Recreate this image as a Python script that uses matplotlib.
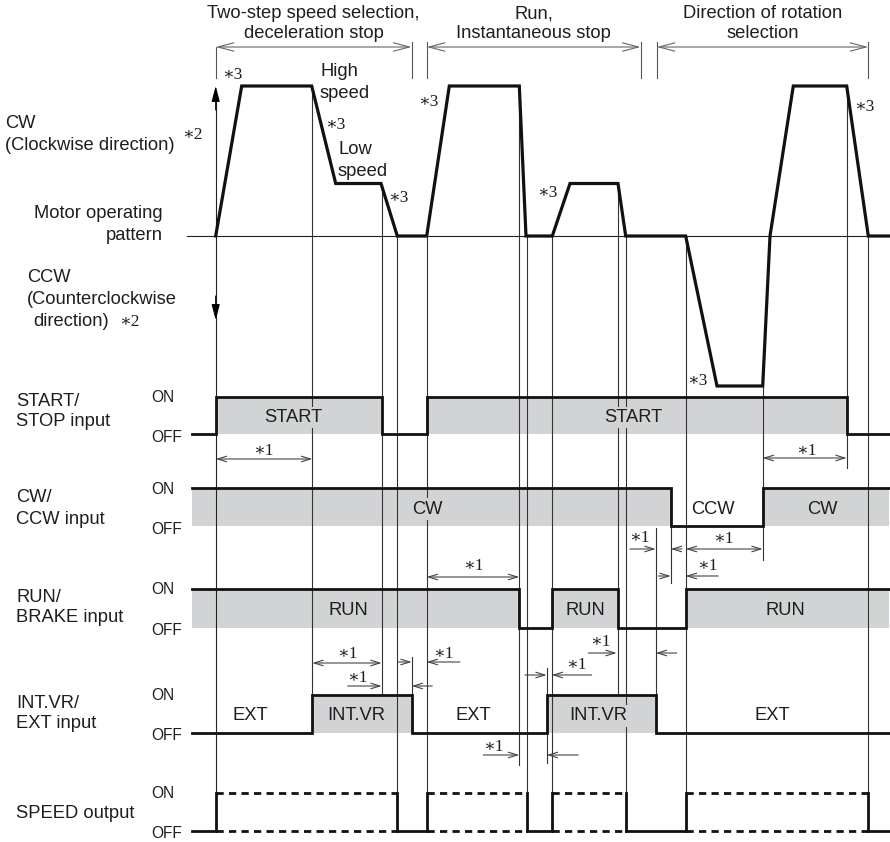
import matplotlib.pyplot as plt
from matplotlib.patches import FancyArrowPatch

plt.rcParams['font.family'] = ['Liberation Sans', 'DejaVu Sans']
SERIF = ['Liberation Serif', 'DejaVu Serif']

# ---- timing data (x = time in diagram units) ----
t_begin, t_end = 192, 889

# motor speed: 1 = high speed CW, 0.35 = low speed CW, -1 = CCW
motor_t = [215.7, 241.7, 311.7, 335.7, 381.0, 397.3, 426.7, 449.3, 519.3, 526.0,
           552.3, 570.0, 618.0, 625.7, 685.7, 717.0, 762.7, 770.0, 793.3, 846.7,
           868.3, 890.0]
motor_v = [0, 1, 1, 0.35, 0.35, 0, 0, 1, 1, 0,
           0, 0.35, 0.35, 0, 0, -1, -1, 0, 1, 1,
           0, 0]

# switching times of each signal and its state before the first edge
start_edges = [215.7, 381.7, 426.7, 846.7]
cwccw_edges = [670.7, 762.7]
run_edges = [519.3, 552.3, 617.7, 685.7]
intvr_edges = [312.3, 411.7, 546.7, 655.7]
speed_edges = [215.7, 397.3, 426.7, 526.7, 551.7, 625.7, 685.7, 868.3]
start_init, cwccw_init, run_init, intvr_init, speed_init = 0, 1, 1, 0, 0

start_labels = ["START", "START"]
start_label_t = [293, 633]
cwccw_labels = ["CW", "CCW", "CW"]
cwccw_label_t = [427, 713, 822]
run_labels = ["RUN", "RUN", "RUN"]
run_label_t = [348, 585, 785]
intvr_labels = ["EXT", "INT.VR", "EXT", "INT.VR", "EXT"]
intvr_label_t = [250, 356, 473, 598, 772]

# phases shown at the top
phase_titles = ["Two-step speed selection,\ndeceleration stop",
                "Run,\nInstantaneous stop",
                "Direction of rotation\nselection"]
phase_spans = [(215.7, 411.7), (426.7, 640.7), (656.7, 868.3)]

# time marker lines: (time, from, to)
markers = [(312.3, 86, 695), (381.7, 184, 695), (397.3, 236, 831),
           (411.7, 657, 695), (426.7, 236, 831), (519.3, 86, 765),
           (526.7, 236, 831), (546.7, 668, 763), (552.3, 236, 831),
           (617.7, 184, 693), (625.7, 236, 831), (655.7, 528, 695),
           (670.7, 526, 583), (685.7, 236, 831), (762.7, 387, 560),
           (846.7, 86, 468), (868.3, 236, 831)]

# *1 delay dimensions: both ends (t1, t2, y, text x, text y)
delay_both = [(215.7, 312.3, 459, 263, 451), (762.7, 846.7, 458, 806, 451),
              (426.7, 519.3, 577, 473, 566), (685.7, 762.7, 549, 723, 539),
              (312.3, 381.7, 663, 347, 654)]
# *1 delay dimensions pointing inward: (tail1, head1, tail2, head2, y, text x, text y)
delay_in = [(630.0, 655.7, 682.0, 670.7, 549, 639, 538),
            (658.3, 670.7, 718.3, 685.7, 576, 707, 566),
            (347.7, 381.7, 432.3, 411.7, 686, 357, 678),
            (398.3, 411.7, 460.0, 426.7, 662, 443, 654),
            (483.3, 519.3, 578.3, 546.7, 755, 493, 747),
            (525.0, 546.7, 591.7, 551.7, 675, 576, 665),
            (588.3, 616.7, 676.7, 655.7, 653, 600, 642)]

# *3 notes (acceleration / deceleration time)
note3_x = [232, 335, 398, 428, 547, 864, 697]
note3_y = [75, 125, 198, 102, 193, 107, 381]

# ---- layout ----
zero_y, scale = 236, 150
rows = {'start': (397, 434), 'cw': (488, 526), 'run': (589, 627.5),
        'intvr': (695, 733), 'speed': (793, 831)}
row_names = {'start': [('START/', 401), ('STOP input', 422)],
             'cw': [('CW/', 497), ('CCW input', 519)],
             'run': [('RUN/', 598), ('BRAKE input', 618)],
             'intvr': [('INT.VR/', 703), ('EXT input', 724)],
             'speed': [('SPEED output', 813)]}
GRAY = '#d1d3d4'
TXT = '#1e1e1e'
FS = 13.2
LW = 2.0

fig = plt.figure(figsize=(8.9, 8.42), dpi=100)
ax = fig.add_axes([0, 0, 1, 1])
ax.set_xlim(0, 890)
ax.set_ylim(842, 0)
ax.axis('off')


def intervals(edges, init):
    b = [t_begin] + edges + [t_end]
    out = []
    s = init
    for a, c in zip(b[:-1], b[1:]):
        out.append((a, c, s))
        s = 1 - s
    return out


def state_at(edges, init, t):
    return (init + sum(1 for e in edges if e < t)) % 2


def draw_signal(edges, init, row, labels, label_t):
    on, off = rows[row]
    xs, ys = [], []
    for a, c, s in intervals(edges, init):
        y = on if s else off
        if s:
            ax.fill_between([a, c], on, off, color=GRAY, lw=0, zorder=1)
        xs += [a, c]
        ys += [y, y]
    ax.plot(xs, ys, color='#111111', lw=LW, zorder=4, solid_joinstyle='miter')
    for lab, t in zip(labels, label_t):
        bg = GRAY if state_at(edges, init, t) else 'white'
        ax.text(t, (on + off) / 2 + 2, lab, ha='center', va='center', fontsize=FS,
                color=TXT, zorder=5,
                bbox=dict(boxstyle='square,pad=0.12', fc=bg, ec='none'))


def dim_arrow(p1, p2, style, color='#444444', hl=0.65, hw=0.2, lw=0.8):
    ax.add_patch(FancyArrowPatch(p1, p2, arrowstyle=f'{style},head_length={hl},head_width={hw}',
                                 mutation_scale=10, color=color, lw=lw,
                                 shrinkA=0, shrinkB=0, zorder=6))


def note(x, y, s, **kw):
    ax.text(x, y, s, va='center', fontsize=kw.pop('fontsize', FS), color=TXT, **kw)


# motor pattern
ax.plot([187, 890], [zero_y, zero_y], color='#222222', lw=0.8, zorder=2)
ax.plot(motor_t, [zero_y - v * scale for v in motor_v], color='#111111', lw=2.3,
        zorder=4, solid_joinstyle='miter')
ax.plot([215.7, 215.7], [92, 831], color='#222222', lw=0.8, zorder=2)
for tip, tail in ((86, 110), (320, 296)):
    ax.annotate('', xy=(215.7, tip), xytext=(215.7, tail),
                arrowprops=dict(arrowstyle='-|>,head_length=0.95,head_width=0.25',
                                color='k', lw=0.8, shrinkA=0, shrinkB=0))

for t, y0, y1 in markers:
    ax.plot([t, t], [y0, y1], color='#333333', lw=0.8, zorder=2)

# input signals
draw_signal(start_edges, start_init, 'start', start_labels, start_label_t)
draw_signal(cwccw_edges, cwccw_init, 'cw', cwccw_labels, cwccw_label_t)
draw_signal(run_edges, run_init, 'run', run_labels, run_label_t)
draw_signal(intvr_edges, intvr_init, 'intvr', intvr_labels, intvr_label_t)

# speed output: dashed while ON
on, off = rows['speed']
for a, c, s in intervals(speed_edges, speed_init):
    if s:
        for y in (on, off):
            ax.plot([a, c], [y, y], color='#111111', lw=LW, ls=(0, (2.6, 1.9)), zorder=4)
    else:
        ax.plot([a, c], [off, off], color='#111111', lw=LW, zorder=4)
for e in speed_edges:
    ax.plot([e, e], [on, off], color='#111111', lw=LW, zorder=4)

# phase brackets and titles
for (a, c), title in zip(phase_spans, phase_titles):
    dim_arrow((a, 47), (c, 47), '<->', color='#666666', hl=1.15, hw=0.3)
    for t in (a, c):
        ax.plot([t, t], [42 if t != phase_spans[0][0] else 47, 78], color='#555555', lw=0.8)
    l1, l2 = title.split('\n')
    note((a + c) / 2, 14, l1, ha='center')
    note((a + c) / 2, 34, l2, ha='center')

# *1 dimensions
for a, c, y, tx, ty in delay_both:
    dim_arrow((a, y), (c, y), '<->')
    note(tx, ty, '∗1', ha='center', fontsize=12.5, family=SERIF)
for t1, h1, t2, h2, y, tx, ty in delay_in:
    dim_arrow((t1, y), (h1, y), '->')
    dim_arrow((t2, y), (h2, y), '->')
    note(tx, ty, '∗1', ha='center', fontsize=12.5, family=SERIF)

for x, y in zip(note3_x, note3_y):
    note(x, y, '∗3', ha='center', fontsize=12.5, family=SERIF)

# speed notes on motor pattern
note(320, 71, 'High', ha='left')
note(320, 93, 'speed', ha='left')
note(338, 150, 'Low', ha='left')
note(338, 171, 'speed', ha='left')

# left-hand labels
note(5, 123, 'CW', ha='left')
note(5, 145, '(Clockwise direction)', ha='left')
note(192, 135, '∗2', ha='center', fontsize=12.5, family=SERIF)
note(163, 214, 'Motor operating', ha='right')
note(163, 236, 'pattern', ha='right')
note(27, 277, 'CCW', ha='left')
note(27, 299, '(Counterclockwise', ha='left')
note(33, 321, 'direction)', ha='left')
note(129, 322, '∗2', ha='center', fontsize=12.5, family=SERIF)

for key, (on, off) in rows.items():
    for name, y in row_names[key]:
        note(16, y, name, ha='left')
    note(151, on + 1, 'ON', ha='left', fontsize=11.2)
    note(151, off + 3, 'OFF', ha='left', fontsize=11.2)

fig.savefig('out.png', dpi=100)
